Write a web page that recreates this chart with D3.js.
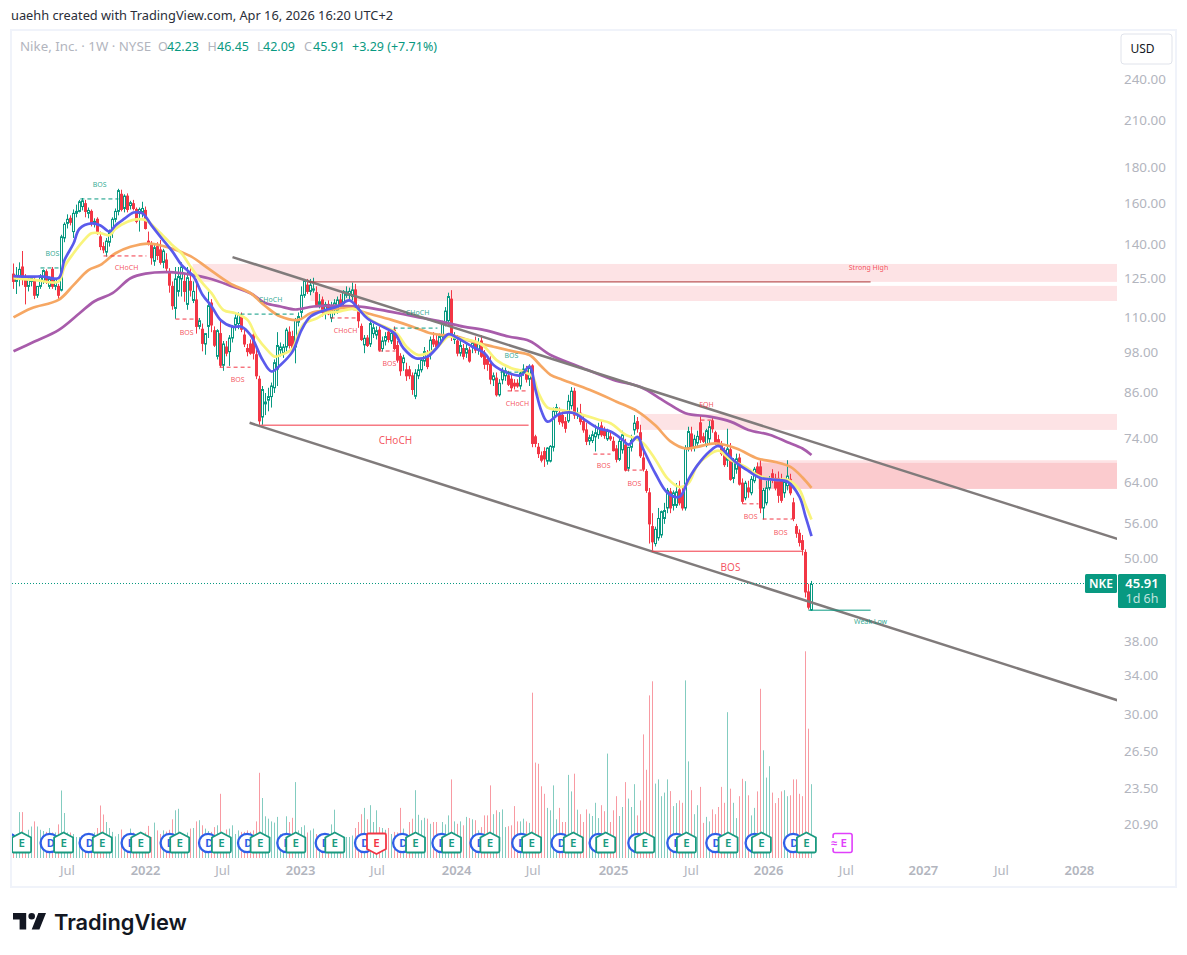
<!DOCTYPE html>
<html><head><meta charset="utf-8">
<style>html,body{margin:0;background:#fff}svg{display:block}text{font-family:"Noto Sans",sans-serif}</style>
<script src="https://cdn.jsdelivr.net/npm/d3@7/dist/d3.min.js"></script></head><body><div id="c"></div>
<script>
const opens=[
127,124,126,130,125.5,122,124,124,118.5,122,
124,128,122,129,122,122,120.5,143,150,152.5,
146,155,156,158.5,160,155,156,150,152,143.5,
139,136.5,141,145.5,152,156,165,157.5,164,159,
160,157,155,155.5,156.5,141.5,139.5,132.5,139,137.5,
132,133,127.5,122,113.5,120,125,124,115,124,
116.5,116.7,107,106,101,107,115.5,105.5,97,104.5,
94.2,100,98.5,103,107.5,108,110.5,104,99.5,101,
104,97.5,90,79.5,83,84,85,87.5,93,99,
98,100,105,103.5,100,108.5,112,118.5,122.5,120,
120.5,119.5,115,116.7,112,115,110,113,112.5,116.7,
115.5,118.5,118.5,118,120.6,114,107,100.7,103,101,
104.5,104,105.7,99.5,102,105,102,105.7,100.5,97,
95,92.8,92.8,91,85.1,91,92.8,95.5,97,97.5,
102.5,102,101,103.5,108,109,117,102.5,102,98,
99.5,98,99,100,101.5,99,102,98,96,94.5,
89.8,90.3,85.5,89.8,91,91,90,88.8,88.8,88,
92,92.5,90,94,74.5,72,70,71,68.8,68.8,
72,81,80.5,79.9,78.3,78.5,82.5,86.5,80,80.5,
78.3,76.2,73.5,73.6,74.5,75,77.2,76,74,74.5,
73.4,71.6,69.2,71.4,72.5,67.2,72,76.2,78.3,75.5,
69.5,66.5,62,55.5,52.5,53.5,54,57,59,62.2,
59.5,59.5,62.6,61.8,59,71.8,75.2,72,73,78,
74.5,72.5,74,78.5,75.5,73.8,72.5,71.2,69,71.4,
65,67,69.5,64,61,63,62,64.5,67.5,67.5,
59,60,63,66,65,65,64.8,62,63.5,64.8,
60,55.5,54.3,53,51,44.8,42.23];
const highs=[
131.5,130,132,137,127,125.5,126,126,122,127,
129,129,126,130,125.5,123,144.5,150.5,154.5,154,
157,159.5,162,163,162,158,157,152.5,153,146,
141,143,147,153,157.5,168,167.5,165,165.5,161.5,
162,158,158,161,158.5,146,141.5,140,141,142,
138,136,129.5,124,130,130,132,127,130,130,
124,125,110,108,104.5,120,117,107,106,109,
102,102,104,107.5,112,112,112,106,101,102.5,
106,99,91,88,86,87.5,89,96,105,101.5,
101,106.5,107,105.5,110,112,122,125,125,125,
125.5,122,119,118,116,116.5,116,117,118,119,
120.5,122,121.5,123.5,123,115,108,104,104,109.5,
108,107,107,103.5,105,106.5,106,107,102,98,
97.5,95,94,92,93,94.5,96.5,100,99,103.5,
105,104,104.5,109,114,119.5,120.5,105,104,102,
101,101.5,100,102,103.5,103,104,99,97,97,
92,92,90,93.5,93.5,92.5,91.5,90,90,92.5,
94.5,94,94.5,94.5,75,73,71,72,72,72.5,
82,83,82,81.5,79.5,85.5,87.7,87.5,82,83,
80,78,75,76,77.5,78,78.5,77,76.5,76,
74.5,72.5,74,76,74,72,75,80,79.5,77.5,
71,67,63,58,55.5,59,58.5,60,63,63,
62.5,64,64.5,63,72.5,77,77,75,76,80,
75.5,76.5,78.5,79.5,76,75,73.5,72,76.5,73,
69.5,70.5,70.5,65,64.5,64.5,65.5,67.5,68.5,69,
63,64.5,65.5,67,66,66.5,66,65,69,66,
61,56,55,54,51.5,46,46.45];
const lows=[
121,119,122,122.5,115,120,122,117,117.5,121,
123,123,121,121,120.5,117,120,141,147.5,149,
143,153,155.5,156.5,153,152.5,148.5,148,144.5,137.4,
136,134.5,139,143,150.5,154,156,155.5,155.5,157,
156.5,150,146,153,147,139.5,131,130.5,133,131,
129.5,128,119.5,113,109.7,118,118,116,113,118,
115.5,104.5,106,98.6,97.5,103,105,100,96,93.5,
92.5,97,94,101.5,105.5,106,105,100,97,97.5,
96,90,77.5,77.5,80,81,82,86,88,97,
96.5,98.5,99.5,98,94.8,107,110,117.5,119,118.5,
119.5,114,113.5,110.5,109.5,111,108.5,111,111.5,114,
114.5,117.5,117,116.5,113,106.5,102,98,100,100,
103,102.5,98.5,98.5,100.5,101.5,101,99,95,91,
92.5,89.5,90,85.5,84.3,90,92,94,93,96,
100,99,100,102.5,107,107.5,102,101,97,97,
96,96.5,95,98,98,97.5,96.5,93,92.5,88.5,
88,85,85,88.5,89.5,88,86.5,87,87.5,87,
91,89,88,72,72,69.5,68.5,67.5,68,68.5,
71,79.5,77.5,77,75.5,78,81.5,79,79,77.5,
75.5,72.5,72.5,73,71,74,74.5,74,73.5,73.5,
71,68.5,68.8,70.5,66.5,66.5,71,75,75.5,69.5,
66.5,62,52.5,51.3,52,53,53.5,56,58,58,
58.5,59,59.5,58.5,58.5,71,71,71,72,73,
73,72,73,75.5,72.5,72,70,67.5,67.5,64.5,
64,66,63.5,59.8,60.5,61,61.5,64,65.5,58,
56.8,59.5,62.5,64,62.5,60,60,61,62.5,61.5,
56.5,53.5,52,50.5,44,42.3,42.09];
const closes=[
124,126.5,129,125.5,122,125,125.5,118.5,122,126,
128.5,124.5,125,122,125,118.5,143.5,149.5,152,150.5,
155,156,161,161.5,156,156.5,150,151,146,139,
137.5,141.5,145.5,152,156,167,157,164,157,160.5,
157.5,151,157,157.5,147.5,140,134,138.5,135,132,
137,129.5,122.5,114.5,125,126,130,120,125.5,120.5,
120,107,109,101.2,104.5,114.5,107.5,100.6,105.5,94.2,
101,98,103,106.8,110,111,106,101,98.5,98,
98,91,78.5,87,83.5,85,88,95,100.5,100,
100,105.7,100.5,99.5,109.3,110.5,118.5,124,120,122.5,
121,115,116,112,115,111.5,114,115.5,116.7,115,
120,119.8,120,120.6,114,109,102.5,102.9,100.5,108,
106.5,105.5,99,102,103.5,102.5,104.6,99.5,95.8,92.5,
96.5,91,91,87,91.8,92.8,95.8,98.5,93.8,102.3,
101,100,103.5,108,112.5,118,103.5,103.5,98,100.5,
97,99.5,95.5,101.2,99,101.5,97,94.5,94.5,90,
91,85.5,88.8,92.5,92.5,88.5,87.5,88,88,91.8,
93,90,93.5,72.9,72.9,70.5,69,69.3,71.8,72.2,
81,82,78.3,78,76.6,83.7,86.5,80,80.5,78.3,
76.2,73.4,74.3,75,75.5,76.8,75,74.8,76,74,
71.2,69.2,73.4,75,66.8,72,73.6,77.9,76.5,70,
67,62.5,56,52.8,55,57,58.3,58.5,62.5,59,
62,62.2,60,59,71.8,75.8,72,73.9,74.6,73.8,
73.4,76,77,76.5,73.2,72.6,70.5,68,71.6,64.8,
69,69.3,63.8,60.3,64,62.2,64.8,67,66,59,
62.5,63,64.8,64.8,63,61.5,60.5,64.2,65.5,62,
57,54.3,52.7,51.5,44.8,42.62,45.91];
const volumes=[
8,8,15.3,15.3,7,9.4,10.5,12.2,10.5,9.4,
9,8.7,10,8.5,8.5,11.2,22.5,15,8.5,8.5,
8,7,7,7,8,8,8,8.5,10,17.5,
14.5,12,10,8.7,7.2,8,9.5,7,7,9.8,
8.5,8,8,8,8.5,10.7,7,11.8,9.2,8,
9.2,8.8,9.4,12.9,15.9,16.4,8,8,8.5,9.8,
10,12.2,12.6,10.9,9.8,9,8.7,10.3,10.9,21.4,
8,9.5,9.8,10.9,8,9.2,8.7,8.7,9.2,8.7,
9.2,12.2,28.4,20,13.9,13.1,12.2,11.8,13.7,8,
7,13.9,12,13.4,25.3,9.2,10.3,10.9,8.5,9.2,
9.8,8,8,8,8,8,11.2,16.1,7,7,
7,7,7,7.5,10,12,14.6,16.7,12.9,17.6,
12,15.9,10.3,10,9.4,10,8,8.7,8.5,16.7,
9.8,8,12,13.1,22.6,14.4,12.6,13.4,13.1,11.4,
12,12,8,12,11.2,14.2,26.2,12.2,11.4,12.2,
10.9,13.7,13.3,12.9,12.6,9.2,10.3,14.2,14.2,24.2,
14.6,15.9,15.3,16.2,10.3,10.6,10.9,17.3,12.2,12.2,
13.1,12.2,11.7,55.1,31.8,31.4,23.9,21.4,16.7,15.9,
24.2,12.9,16.7,12,12,27.7,22.2,28.1,16.1,14.6,
12,16.2,14.8,14,18.4,13.3,17.6,15.6,34.8,12,
15.9,20.6,14,17,25.3,19.8,17,24.6,14.2,19.2,
41.2,29.4,54.2,58.9,24.8,26.2,20.6,21.8,26.2,22.3,
17.3,18.3,19.2,18.4,59.2,32.2,22.6,14.6,17.6,23.7,
11.7,13.7,12.2,16.2,14.6,17,23.7,18.4,48.6,23.1,
18.4,13.3,20.6,26.4,25.6,20.9,14.2,16.7,22.2,56.4,
35.9,26.8,30.6,21.8,18.3,20,22.2,22.6,20.6,20.9,
26.2,26.2,21.4,20.6,68.9,43.1,24.6];

const blueBars=[0,4,7,10,15,17,20,22,26,29,32,34,37,40,43,46,49,53,56,60,63,66,69,73,76,79,83,86,89,93,96,99,104,108,112,115,118,123,127,130,134,138,141,145,148,153,157,160,165,169,172,174,176,178,182,187,190,195,199,203,205,208,210,214,218,222,225,228,232,235,238,241,245,249,254,258,262,264,266];
const bluePrices=[126.2,126,126,126,125.3,133,140.4,147.4,150,149,146,149,152.3,155.4,155,149,143.5,136.7,130.9,126,118.7,114.3,109.3,106.9,106.9,104,95.9,92.3,94.3,98.5,105.7,110.5,112.9,114.2,116.5,113.3,109.8,106.9,104.6,99.6,96.4,96.9,99.6,104.3,103,100.1,98,94.3,91.8,91.1,93.8,86.9,81,78.3,80.3,80.5,79,76.6,75.8,73.8,72.6,74.5,71.4,66,62,61.2,64.8,67.9,71,72.3,70.3,68.4,66.6,65.1,64.7,64.3,61.2,57.4,53.8];
const yellowBars=[0,7,15,17,20,23,26,29,32,34,38,41,44,48,53,56,59,63,66,70,74,78,81,85,87,89,93,95,97,101,104,108,113,116,120,125,128,131,135,138,141,145,148,154,157,161,166,170,173,175,178,182,190,195,199,204,207,210,214,218,222,225,228,232,235,239,244,248,254,258,262,264,266];
const yellowPrices=[125.3,124.6,123.9,130.2,136,141.2,145.2,145.2,144.3,147.4,150.8,152,151.6,146.7,139.6,136,130.2,123.3,119.3,112.9,111.7,109.3,103.4,98.6,96.9,97.4,99.5,104.6,108.1,109.8,111.7,112.2,113.3,112.2,108.7,106.3,104.3,100.1,97.4,98,99.6,103.5,103,101.8,100.1,95.8,93.3,92.3,90.8,86,82,81.4,80,78.8,77.9,75,74.2,72.9,69.1,65,63.2,64,67.9,70.3,71.2,69.1,67.5,65.7,64.7,64.7,62.6,59.6,56.8];
const orangeBars=[0,6,15,20,25,29,34,39,45,52,59,65,72,79,84,89,95,99,105,112,118,126,133,139,143,146,153,160,167,172,176,179,183,192,201,208,214,219,224,228,234,241,248,254,259,263,266];
const orangePrices=[110.2,113.6,116.7,122.5,128.7,130.9,136,138.9,140.4,138.5,134.7,129.3,123.3,119.3,114.3,110.5,109.3,111.7,112.9,113.6,111.7,109.3,106.9,104.6,104,104,101.8,100.1,98.5,97.4,93.8,91.3,89.8,86.9,83.6,81,77.3,73.4,71.7,72.1,72.9,71.7,69.4,68.6,67.5,65.2,63];
const purpleBars=[0,7,15,22,27,33,39,44,52,59,65,73,79,84,89,94,100,109,117,126,134,143,150,157,165,172,179,188,200,209,217,224,232,239,245,252,258,263,266];
const purplePrices=[98.6,101.8,105.7,111.7,116.2,119.3,125.3,127.2,127.8,126.8,125.3,122,119.3,115.5,114.2,113.1,114.2,114.5,114,112.2,110.5,108.6,106.9,105.7,103.5,102,97.4,94,89.8,87.7,83.7,80.5,79.6,78.3,76.2,75,73.2,71.7,70.2];

const priceTicks=[240,210,180,160,140,125,110,98,86,74,64,56,50,38,34,30,26.5,23.5,20.9];
const timeTickBars=[18,44,69.7,95.7,121.3,147.7,173.2,200,226,251.7,277.6,303.3,329.3,355.3];
const timeTickLabels=["Jul","2022","Jul","2023","Jul","2024","Jul","2025","Jul","2026","Jul","2027","Jul","2028"];

const zoneStartBars=[59.7,99,209,248.3,248.3];
const zoneTopPrices=[131.3,122.2,80.3,69,68.4];
const zoneBottomPrices=[123.8,116.3,76.2,62.8,62.8];

const channelBars=[[73,368],[78.7,368]];
const channelPrices=[[134.3,53.3],[78,31.4]];

const dashStartBars=[22.3,9,30,54,68.7,75.7,105.7,126.7,121.7,162.3,164.7,193.3,204,229,243,249.7];
const dashEndBars=[35,15.7,44.3,61.7,79,94.3,114,141.3,127.3,171.7,171.7,199,209.7,233.3,248.3,260];
const dashPrices=[162.5,129.6,134.8,109.6,93.6,111.4,110,106.4,98.7,92.1,86.6,70.4,66.8,78.7,59.8,56.9];
const dashKinds=["up","up","down","down","down","up","down","up","down","up","down","down","down","down","down","down"];

const solidStartBars=[82.3,212.7,98.3,265];
const solidEndBars=[171.7,263.3,285.7,285.7];
const solidPrices=[77.4,51.2,123.8,42.2];
const solidKinds=["down","down","thin","up"];

const labelTexts=["BOS","BOS","CHoCH","BOS","BOS","CHoCH","CHoCH","CHoCH","BOS","BOS","CHoCH","BOS","BOS","EQH","BOS","BOS","CHoCH","BOS","Strong High","Weak Low"];
const labelBars=[28.7,13,37.7,57.7,74.7,85.7,110.7,134.7,125.3,166,168,196.7,207,231,245.7,255.7,127.3,239,285,285.7];
const labelPrices=[170.1,135.7,129.6,105,90,116.7,105.4,111.8,94.6,97.1,83.2,67.7,64,82.7,57.3,54.5,73.5,48.6,129.6,40.6];
const labelKinds=["up","up","down","down","down","up","down","up","down","up","down","down","down","down","down","down","downBig","downBig","down","up"];

const dividendBars=[-1.7,12.1,25.1,39.1,52.1,64.9,77.9,91,103.8,116.9,129.6,142.7,155.4,169.3,182.4,195.1,208,221,234,247.1,259.9];
const earningsBars=[2.7,16.7,29.6,42.4,55.4,69.3,82.2,94.1,107.1,121,134,146,158.8,172.7,186.6,197.4,210.4,224.3,238.2,249.3,264.3];
const earningsMissed=[121];
const pendingEarningsBar=[276.2];

const lastPrice=45.91;
const RED="#f23645",GREEN="#089981",GREY="#b2b5be";
const W=1187,H=955;
const svg=d3.select("#c").append("svg").attr("width",W).attr("height",H);

const x=d3.scaleLinear().domain([0,368]).range([13.5,1117.5]);
const y=d3.scaleLog().domain([240,20.9]).range([80,824.5]);
const v=d3.scaleLinear().domain([0,69]).range([858,651]);

svg.append("text").attr("x",11).attr("y",20).attr("fill","#2a2e39").attr("font-size",12.8)
  .text("uaehh created with TradingView.com, Apr 16, 2026 16:20 UTC+2");
svg.append("rect").attr("x",11).attr("y",30).attr("width",1165).attr("height",857).attr("fill","none").attr("stroke","#f0f3fa").attr("stroke-width",2);

svg.append("defs").append("clipPath").attr("id","pc").append("rect").attr("x",12).attr("y",31).attr("width",1105).attr("height",827+28);
const plot=svg.append("g").attr("clip-path","url(#pc)");

plot.append("g").selectAll("rect").data(zoneStartBars).join("rect")
  .attr("x",d=>x(d)).attr("width",d=>x(368)-x(d))
  .attr("y",(d,i)=>y(zoneTopPrices[i])).attr("height",(d,i)=>y(zoneBottomPrices[i])-y(zoneTopPrices[i]))
  .attr("fill",RED).attr("fill-opacity",0.14);

plot.append("g").selectAll("line").data(volumes).join("line")
  .attr("x1",(d,i)=>x(i)).attr("x2",(d,i)=>x(i)).attr("y1",v(0)).attr("y2",d=>v(d))
  .attr("stroke",(d,i)=>closes[i]>=opens[i]?GREEN:RED).attr("stroke-opacity",0.5).attr("stroke-width",1);

const candle=plot.append("g").selectAll("g").data(opens).join("g");
candle.append("line").attr("x1",(d,i)=>x(i)).attr("x2",(d,i)=>x(i))
  .attr("y1",(d,i)=>y(highs[i])).attr("y2",(d,i)=>y(lows[i]))
  .attr("stroke",(d,i)=>closes[i]>=d?GREEN:RED).attr("stroke-width",1);
candle.append("rect").attr("x",(d,i)=>x(i)-1).attr("width",2)
  .attr("y",(d,i)=>y(Math.max(d,closes[i])))
  .attr("height",(d,i)=>Math.max(1,Math.abs(y(d)-y(closes[i]))))
  .attr("fill",(d,i)=>closes[i]>=d?"#fff":RED)
  .attr("stroke",(d,i)=>closes[i]>=d?GREEN:RED).attr("stroke-width",1);

const ma=(bars,prices,col,w)=>plot.append("path")
  .attr("d",d3.line().x(d=>x(d[0])).y(d=>y(d[1])).curve(d3.curveCatmullRom.alpha(0.5))(d3.zip(bars,prices)))
  .attr("fill","none").attr("stroke",col).attr("stroke-width",w).attr("stroke-linejoin","round");
ma(purpleBars,purplePrices,"#a85cab",2.7);
ma(orangeBars,orangePrices,"#f6a763",2.7);
ma(yellowBars,yellowPrices,"#f9f47c",2.7);
ma(blueBars,bluePrices,"#5a5aec",2.7);

plot.append("g").selectAll("line").data(channelBars).join("line")
  .attr("x1",d=>x(d[0])).attr("x2",d=>x(d[1]))
  .attr("y1",(d,i)=>y(channelPrices[i][0])).attr("y2",(d,i)=>y(channelPrices[i][1]))
  .attr("stroke","#807b7b").attr("stroke-width",2.5);

const kindColor={up:GREEN,down:RED,downBig:RED,thin:"#a33"};
plot.append("g").selectAll("line").data(dashStartBars).join("line")
  .attr("x1",d=>x(d)).attr("x2",(d,i)=>x(dashEndBars[i]))
  .attr("y1",(d,i)=>y(dashPrices[i])).attr("y2",(d,i)=>y(dashPrices[i]))
  .attr("stroke",(d,i)=>kindColor[dashKinds[i]]).attr("stroke-width",1).attr("stroke-dasharray","4 3");
plot.append("g").selectAll("line").data(solidStartBars).join("line")
  .attr("x1",d=>x(d)).attr("x2",(d,i)=>x(solidEndBars[i]))
  .attr("y1",(d,i)=>y(solidPrices[i])).attr("y2",(d,i)=>y(solidPrices[i]))
  .attr("stroke",(d,i)=>kindColor[solidKinds[i]]).attr("stroke-width",1);
plot.append("g").selectAll("text").data(labelTexts).join("text")
  .attr("x",(d,i)=>x(labelBars[i])).attr("y",(d,i)=>y(labelPrices[i])).attr("dy","0.35em")
  .attr("text-anchor","middle").attr("font-size",(d,i)=>labelKinds[i]==="downBig"?10:7)
  .attr("fill",(d,i)=>kindColor[labelKinds[i]]).attr("fill-opacity",0.85).text(d=>d);

svg.append("line").attr("x1",12).attr("x2",1085).attr("y1",583.5).attr("y2",583.5)
  .attr("stroke",GREEN).attr("stroke-width",1).attr("stroke-dasharray","1 2");

const iconY=843;
const dg=plot.append("g").selectAll("g").data(dividendBars).join("g").attr("transform",d=>`translate(${x(d)},${iconY})`);
dg.append("circle").attr("r",9.2).attr("fill","#fff").attr("stroke","#2f5fe8").attr("stroke-width",2.3);
dg.append("text").attr("x",1).attr("dy","0.36em").attr("text-anchor","middle").attr("font-size",11).attr("font-weight",700).attr("fill","#2f5fe8").text("D");
const housePath="M-9.5,-5.5 L0,-10.5 L9.5,-5.5 L9.5,8 Q9.5,9.5 8,9.5 L-8,9.5 Q-9.5,9.5 -9.5,8 Z";
const shieldPath="M-9.5,-8 Q-9.5,-9.5 -8,-9.5 L8,-9.5 Q9.5,-9.5 9.5,-8 L9.5,6 L0,11 L-9.5,6 Z";
const eg=plot.append("g").selectAll("g").data(earningsBars).join("g").attr("transform",d=>`translate(${x(d)},${iconY})`);
eg.append("path").attr("d",d=>earningsMissed.includes(d)?shieldPath:housePath).attr("fill","#fff")
  .attr("stroke",d=>earningsMissed.includes(d)?RED:"#1a9a80").attr("stroke-width",1.8).attr("stroke-linejoin","round");
eg.append("text").attr("dy","0.38em").attr("text-anchor","middle").attr("font-size",11.5).attr("font-weight",600)
  .attr("fill",d=>earningsMissed.includes(d)?RED:"#1a9a80").text("E");
const pg=plot.append("g").selectAll("g").data(pendingEarningsBar).join("g").attr("transform",d=>`translate(${x(d)},${iconY})`);
pg.append("rect").attr("x",-9).attr("y",-9.5).attr("width",19).attr("height",19).attr("rx",2).attr("fill","#fff").attr("stroke","#e040fb").attr("stroke-width",1.6);
pg.append("rect").attr("x",-11).attr("y",-5).attr("width",5).attr("height",10).attr("fill","#fff");
pg.append("text").attr("x",-8).attr("dy","0.35em").attr("text-anchor","middle").attr("font-size",11).attr("font-weight",700).attr("fill","#e040fb").text("≈");
pg.append("text").attr("x",1.5).attr("dy","0.38em").attr("text-anchor","middle").attr("font-size",11.5).attr("font-weight",600).attr("fill","#e040fb").text("E");

const ay=svg.append("g").attr("transform","translate(1124,-0.5)")
  .call(d3.axisRight(y).tickValues(priceTicks).tickSize(0).tickPadding(0).tickFormat(d3.format(".2f")));
ay.select(".domain").remove();
ay.selectAll("text").attr("font-size",13.4).attr("fill",GREY).attr("font-family",'"Noto Sans",sans-serif');
const ax=svg.append("g").attr("transform","translate(-0.5,864)")
  .call(d3.axisBottom(x).tickValues(timeTickBars).tickSize(0).tickPadding(2).tickFormat((d,i)=>timeTickLabels[i]));
ax.select(".domain").remove();
ax.selectAll("text").attr("font-size",13).attr("fill",GREY).attr("font-family",'"Noto Sans",sans-serif')
  .attr("font-weight",(d,i)=>timeTickLabels[i]==="Jul"?400:600);

const legend=[["Nike, Inc. · 1W · NYSE",20,GREY,13.3],["O",158,GREY,12.5],["42.23",167,GREEN,12.5],["H",207.5,GREY,12.5],["46.45",217,GREEN,12.5],["L",257,GREY,12.5],["42.09",263,GREEN,12.5],["C",304,GREY,12.5],["45.91",313,GREEN,12.5],["+3.29 (+7.71%)",352,GREEN,12.5]];
svg.append("g").selectAll("text").data(legend).join("text")
  .attr("x",d=>d[1]).attr("y",50.5).attr("font-size",d=>d[3]).attr("fill",d=>d[2]).text(d=>d[0]);

svg.append("rect").attr("x",1121).attr("y",34).attr("width",51).attr("height",30).attr("rx",3).attr("fill","#fff").attr("stroke","#e0e3eb");
svg.append("text").attr("x",1142.5).attr("y",53).attr("text-anchor","middle").attr("font-size",12).attr("fill","#131722").text("USD");

svg.append("rect").attr("x",1085).attr("y",574).attr("width",32).attr("height",19).attr("rx",1.5).attr("fill",GREEN);
svg.append("text").attr("x",1101).attr("y",588).attr("text-anchor","middle").attr("font-size",12).attr("font-weight",600).attr("fill","#fff").text("NKE");
svg.append("rect").attr("x",1118).attr("y",574).attr("width",48).attr("height",34).attr("rx",1.5).attr("fill",GREEN);
svg.append("text").attr("x",1142).attr("y",588).attr("text-anchor","middle").attr("font-size",13).attr("font-weight",600).attr("fill","#fff").text(lastPrice.toFixed(2));
svg.append("text").attr("x",1142).attr("y",603).attr("text-anchor","middle").attr("font-size",12.5).attr("fill","#fff").attr("fill-opacity",0.75).text("1d 6h");

svg.append("path").attr("transform","translate(10.8,906.4) scale(1.1)")
  .attr("d","M14 6H2v6h6v9h6V6zm12 15h-7l6-15h7l-6 15zm-7-9a3 3 0 1 0 0-6 3 3 0 0 0 0 6z").attr("fill","#131722");
svg.append("text").attr("x",54).attr("y",930).attr("font-size",21.8).attr("font-weight",600).attr("fill","#131722").style("font-family","Inter,sans-serif").text("TradingView");
</script></body></html>
